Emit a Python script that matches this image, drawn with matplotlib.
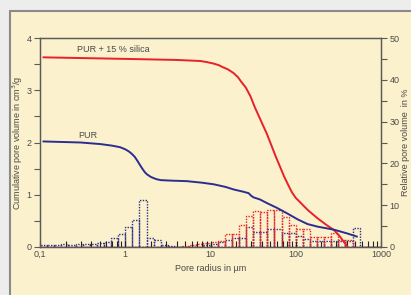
import numpy as np
import matplotlib.pyplot as plt
from matplotlib.patches import Rectangle
from matplotlib.ticker import FixedLocator, NullFormatter, MultipleLocator

plt.rcParams['font.family'] = ['Liberation Sans', 'DejaVu Sans']

# cumulative curves (cm3/g)
pur_x = [0.11, 0.3, 0.51, 0.7, 0.87, 1.0, 1.1, 1.2, 1.3, 1.4, 1.5, 1.6, 1.7, 1.8,
         2.0, 2.3, 2.6, 3.5, 5.3, 8, 10.9, 15, 18.8, 24, 28, 30, 32, 38, 46,
         60, 80, 105, 137, 180, 283, 400, 520]
pur_y = [2.02, 2.0, 1.97, 1.94, 1.91, 1.87, 1.83, 1.78, 1.72, 1.64, 1.56, 1.49, 1.43, 1.39,
         1.34, 1.30, 1.28, 1.27, 1.26, 1.23, 1.20, 1.15, 1.10, 1.06, 1.03, 0.98, 0.95, 0.91, 0.84,
         0.75, 0.64, 0.53, 0.44, 0.39, 0.33, 0.26, 0.20]

sil_x = [0.11, 1, 4, 7.6, 9, 10.9, 12.5, 14, 16, 18.6, 21, 23, 26, 29.5, 33, 37, 46,
         58, 73, 82, 90, 100, 115, 140, 180, 230, 283, 330, 370, 405]
sil_y = [3.63, 3.60, 3.58, 3.56, 3.54, 3.51, 3.48, 3.44, 3.40, 3.33, 3.25, 3.16, 3.05, 2.88, 2.68, 2.50, 2.16,
         1.74, 1.35, 1.18, 1.05, 0.94, 0.84, 0.70, 0.55, 0.42, 0.32, 0.20, 0.09, 0.0]

# relative pore volume histograms (%), 12 bins per decade from 0.1 to 1000
bin_edges = np.logspace(-1, 3, 49)
pur_hist = [0.4, 0.5, 0.4, 0.6, 0.5, 0.6, 0.7, 0.8, 1.0, 1.2, 2.2, 3.2,
            4.8, 6.4, 11.2, 2.2, 1.6, 0.5, 0.3, 0.0, 0.0, 0.0, 0.0, 0.4,
            0.8, 1.2, 1.7, 2.1, 2.1, 4.9, 3.7, 3.7, 4.2, 4.2, 3.3, 3.3,
            2.6, 1.8, 1.5, 1.5, 1.5, 1.5, 1.5, 1.5, 4.6, 0.0, 0.0, 0.0]
sil_hist = [0.0] * 20 + [0.3, 0.5, 0.6, 0.9,
            1.2, 1.5, 3.2, 3.2, 5.3, 7.5, 8.7, 8.4, 8.85, 8.85, 7.2, 5.3,
            4.2, 4.2, 2.3, 2.3, 2.3, 3.3, 1.7, 1.7, 0.0, 0.0, 0.0, 0.0]

red = '#e62129'
blue = '#2b2e8e'
txt = '#4a4a4a'

fig = plt.figure(figsize=(4.11, 2.95), dpi=100, facecolor='#ededed')
fig.patches.append(Rectangle((9.5 / 411, -0.1), 1.2, 1.1 - 10.5 / 295,
                             transform=fig.transFigure, facecolor='#fbf1cc',
                             edgecolor='#8a8a8a', lw=1.5, zorder=-1))

ax2 = fig.add_axes([40 / 411, 1 - 247 / 295, 341 / 411, 209 / 295])
ax = ax2.twinx()
ax.yaxis.tick_left()
ax.yaxis.set_label_position('left')
ax2.yaxis.tick_right()
ax2.yaxis.set_label_position('right')
ax.set_zorder(ax2.get_zorder() + 1)
for a in (ax, ax2):
    a.patch.set_visible(False)
    for s in a.spines.values():
        s.set_color('#5a5a5a')
        s.set_linewidth(0.9)

ax2.bar(bin_edges[:-1], pur_hist, width=np.diff(bin_edges), align='edge',
        fill=False, edgecolor=blue, linestyle=(0, (1, 1)), linewidth=1.0)
ax2.bar(bin_edges[:-1], sil_hist, width=np.diff(bin_edges), align='edge',
        fill=False, edgecolor=red, linestyle=(0, (1, 1)), linewidth=1.0)

ax.plot(sil_x, sil_y, color=red, lw=1.4)
ax.plot(pur_x, pur_y, color=blue, lw=1.4)

ax.text(0.27, 3.7, 'PUR + 15 % silica', fontsize=6.5, color=txt, va='bottom')
ax.text(0.28, 2.05, 'PUR', fontsize=6.5, color=txt, va='bottom')

ax2.set_xscale('log')
ax2.set_xlim(0.1, 1000)
ax.set_ylim(0, 4)
ax2.set_ylim(0, 50)

ax2.xaxis.set_major_locator(FixedLocator([0.1, 1, 10, 100, 1000]))
ax2.set_xticklabels(['0,1', '1', '10', '100', '1000'])
minor = [m * 10.0 ** d for d in range(-1, 3) for m in range(2, 10)]
ax2.xaxis.set_minor_locator(FixedLocator(minor))
ax2.xaxis.set_minor_formatter(NullFormatter())
ax2.tick_params(axis='x', which='both', direction='in', length=4, width=0.8,
                color='#222222', labelsize=6.5, labelcolor=txt, pad=2)

ax.yaxis.set_major_locator(MultipleLocator(1))
ax.yaxis.set_minor_locator(MultipleLocator(0.5))
ax.tick_params(axis='y', which='both', direction='out', length=4, width=0.8,
               color='#5a5a5a', labelsize=6.5, labelcolor=txt, pad=2)
ax2.yaxis.set_major_locator(MultipleLocator(10))
ax2.yaxis.set_minor_locator(MultipleLocator(5))
ax2.tick_params(axis='y', which='both', direction='out', length=4, width=0.8,
                color='#5a5a5a', labelsize=6.5, labelcolor=txt, pad=2)

ax2.set_xlabel('Pore radius in µm', fontsize=6.5, color=txt, labelpad=4)
ax.set_ylabel('Cumulative pore volume in cm$^3$/g', fontsize=6.5, color=txt, labelpad=1)
ax2.set_ylabel('Relative pore volume  in %', fontsize=6.5, color=txt, labelpad=1)

fig.savefig('out.png', dpi=100, facecolor=fig.get_facecolor())
